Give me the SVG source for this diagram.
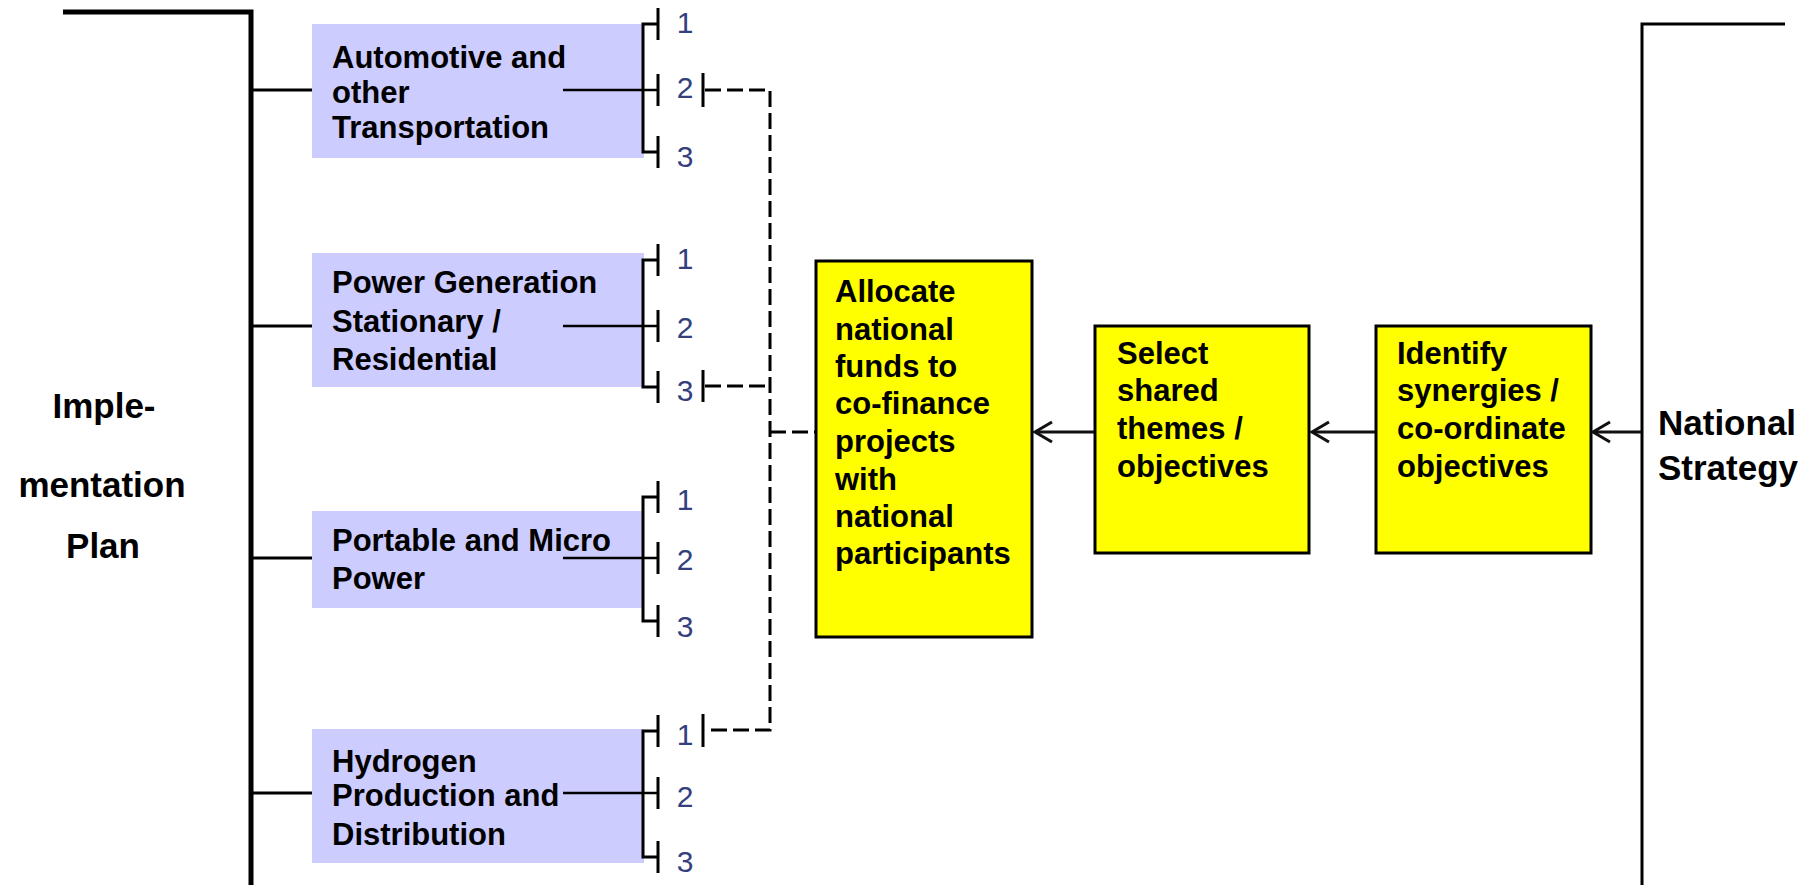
<svg xmlns="http://www.w3.org/2000/svg" width="1812" height="885" viewBox="0 0 1812 885">
<style>
  .bg{fill:#ffffff}
  .area{fill:#ccccff;stroke:none}
  .step{fill:#ffff00;stroke:#000;stroke-width:3}
  .t{font-family:"Liberation Sans",Arial,sans-serif;font-weight:bold;font-size:31px;fill:#000}
  .big{font-family:"Liberation Sans",Arial,sans-serif;font-weight:bold;font-size:35px;fill:#000}
  .num{font-family:"Liberation Sans",Arial,sans-serif;font-size:30px;fill:#34407e;text-anchor:middle}
  .ln{stroke:#000;fill:none;stroke-width:3}
  .thin{stroke:#000;fill:none;stroke-width:2.5}
  .heavy{stroke:#000;fill:none;stroke-width:5}
  .dash{stroke:#000;fill:none;stroke-width:3;stroke-dasharray:16 6}
  .arr{stroke:#111;fill:none;stroke-width:3;marker-end:url(#head)}
</style>
<defs>
  <marker id="head" markerUnits="userSpaceOnUse" markerWidth="22" markerHeight="26" viewBox="0 0 22 26" refX="19" refY="13" orient="auto">
    <path d="M2,3 L19,13 L2,23" fill="none" stroke="#111" stroke-width="3"/>
  </marker>
</defs>
<rect class="bg" x="0" y="0" width="1812" height="885"/>

<g id="implementation-plan">
  <path class="heavy" d="M63,12 H251 V885"/>
  <text class="big" text-anchor="middle" x="104" y="418">Imple-</text>
  <text class="big" text-anchor="middle" x="102" y="497">mentation</text>
  <text class="big" text-anchor="middle" x="103" y="558">Plan</text>
</g>

<g id="national-strategy">
  <path class="ln" d="M1785,24 H1642 V885"/>
  <text class="big" x="1658" y="435">National</text>
  <text class="big" x="1658" y="480">Strategy</text>
</g>

<g id="area-automotive">
  <rect class="area" x="312" y="24" width="332" height="134"/>
  <text class="t" x="332" y="68">Automotive and</text>
  <text class="t" x="332" y="103">other</text>
  <text class="t" x="332" y="138">Transportation</text>
  <text class="num" x="685" y="33">1</text>
  <text class="num" x="685" y="98">2</text>
  <text class="num" x="685" y="167">3</text>
</g>

<g id="area-power">
  <rect class="area" x="312" y="253" width="332" height="134"/>
  <text class="t" x="332" y="293">Power Generation</text>
  <text class="t" x="332" y="332">Stationary /</text>
  <text class="t" x="332" y="370">Residential</text>
  <text class="num" x="685" y="269">1</text>
  <text class="num" x="685" y="338">2</text>
  <text class="num" x="685" y="401">3</text>
</g>

<g id="area-portable">
  <rect class="area" x="312" y="511" width="332" height="97"/>
  <text class="t" x="332" y="551">Portable and Micro</text>
  <text class="t" x="332" y="589">Power</text>
  <text class="num" x="685" y="510">1</text>
  <text class="num" x="685" y="570">2</text>
  <text class="num" x="685" y="637">3</text>
</g>

<g id="area-hydrogen">
  <rect class="area" x="312" y="729" width="332" height="134"/>
  <text class="t" x="332" y="772">Hydrogen</text>
  <text class="t" x="332" y="806">Production and</text>
  <text class="t" x="332" y="845">Distribution</text>
  <text class="num" x="685" y="745">1</text>
  <text class="num" x="685" y="807">2</text>
  <text class="num" x="685" y="872">3</text>
</g>

<g id="step-allocate">
  <rect class="step" x="816" y="261" width="216" height="376"/>
  <text class="t" x="835" y="302">Allocate</text>
  <text class="t" x="835" y="340">national</text>
  <text class="t" x="835" y="377">funds to</text>
  <text class="t" x="835" y="414">co-finance</text>
  <text class="t" x="835" y="452">projects</text>
  <text class="t" x="835" y="490">with</text>
  <text class="t" x="835" y="527">national</text>
  <text class="t" x="835" y="564">participants</text>
</g>

<g id="step-select">
  <rect class="step" x="1095" y="326" width="214" height="227"/>
  <text class="t" x="1117" y="364">Select</text>
  <text class="t" x="1117" y="401">shared</text>
  <text class="t" x="1117" y="439">themes /</text>
  <text class="t" x="1117" y="477">objectives</text>
</g>

<g id="step-identify">
  <rect class="step" x="1376" y="326" width="215" height="227"/>
  <text class="t" x="1397" y="364">Identify</text>
  <text class="t" x="1397" y="401">synergies /</text>
  <text class="t" x="1397" y="439">co-ordinate</text>
  <text class="t" x="1397" y="477">objectives</text>
</g>

<g id="connectors">
  <!-- stubs from main line to areas -->
  <path class="ln" d="M251,90 H312 M251,326 H312 M251,558 H312 M251,793 H312"/>
  <!-- inner lines through brackets to middle ticks -->
  <path class="thin" d="M563,90 H658 M563,326 H658 M563,558 H658 M563,793 H658"/>
  <!-- brackets -->
  <path class="ln" d="M658,24 H643 V152 H658 M658,8 V40 M658,74 V106 M658,136 V168"/>
  <path class="ln" d="M658,260 H643 V387 H658 M658,244 V276 M658,310 V342 M658,371 V403"/>
  <path class="ln" d="M658,497 H643 V621 H658 M658,481 V513 M658,542 V574 M658,605 V637"/>
  <path class="ln" d="M658,731 H643 V857 H658 M658,715 V747 M658,777 V809 M658,841 V873"/>
  <!-- selected item ticks -->
  <path class="ln" d="M703,73 V107 M703,370 V402 M703,714 V747"/>
  <!-- dashed feed -->
  <path class="dash" d="M705,90 H770 V730 H705"/>
  <path class="dash" d="M705,386 H770"/>
  <path class="dash" d="M770,432 H815"/>
  <!-- arrows -->
  <path class="arr" d="M1094,432 H1035"/>
  <path class="arr" d="M1375,432 H1312"/>
  <path class="arr" d="M1641,432 H1593"/>
</g>
</svg>
